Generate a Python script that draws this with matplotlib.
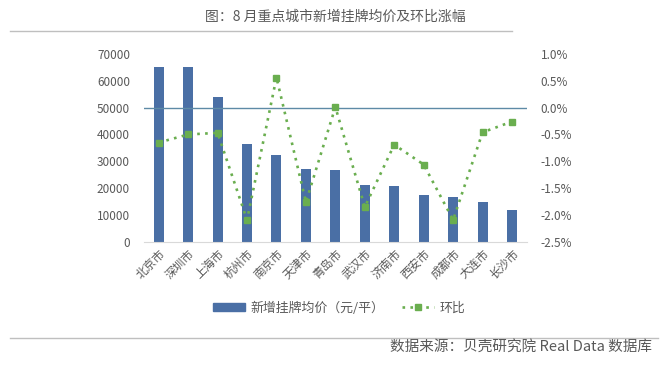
import matplotlib
matplotlib.use("Agg")
import matplotlib.pyplot as plt
from matplotlib.lines import Line2D
from matplotlib.patches import Patch
from matplotlib.ticker import FuncFormatter

plt.rcParams['font.family'] = ['Noto Sans CJK SC', 'DejaVu Sans']

cities = ["北京市", "深圳市", "上海市", "杭州市", "南京市", "天津市", "青岛市",
          "武汉市", "济南市", "西安市", "成都市", "大连市", "长沙市"]
prices = [65000, 65000, 54000, 36500, 32400, 27200, 26800,
          21200, 21000, 17500, 16750, 14900, 11900]
mom = [-0.65, -0.50, -0.47, -2.09, 0.56, -1.76, 0.01,
       -1.85, -0.69, -1.06, -2.09, -0.46, -0.26]

title = "图：8 月重点城市新增挂牌均价及环比涨幅"
source = "数据来源：贝壳研究院 Real Data 数据库"
bar_label = "新增挂牌均价（元/平）"
line_label = "环比"

bar_color = "#4A6FA5"
green = "#6AAE4F"
text_gray = "#595959"

fig = plt.figure(figsize=(6.71, 3.74), dpi=100)
ax = fig.add_axes([0.2146, 0.353, 0.5704, 0.503])
x = list(range(len(cities)))
ax.bar(x, prices, width=0.34, color=bar_color, zorder=2)
ax.set_xlim(-0.5, len(cities) - 0.5)
ax.set_ylim(0, 70000)
ax.set_yticks(range(0, 70001, 10000))
ax.set_xticks(x)
ax.set_xticklabels(cities, rotation=45, ha='right', rotation_mode='anchor',
                   fontsize=9, color=text_gray)
for s in ['top', 'right', 'left']:
    ax.spines[s].set_visible(False)
ax.spines['bottom'].set_color('#D9D9D9')
ax.tick_params(axis='both', length=0, labelsize=8.5, labelcolor=text_gray)
ax.tick_params(axis='x', pad=4)
ax.tick_params(axis='y', pad=10)

ax2 = ax.twinx()
ax2.set_ylim(-2.5, 1.0)
ax2.set_yticks([1.0, 0.5, 0.0, -0.5, -1.0, -1.5, -2.0, -2.5])
ax2.yaxis.set_major_formatter(FuncFormatter(lambda v, p: f"{v:.1f}%"))
ax2.axhline(0, color='#5E8AA6', lw=1.0, zorder=1)
ax2.plot(x, mom, color=green, ls=(0, (1, 2.0)), lw=1.9, marker='s',
         markersize=4.6, markerfacecolor=green, markeredgecolor=green, zorder=3)
for s in ['top', 'right', 'left', 'bottom']:
    ax2.spines[s].set_visible(False)
ax2.tick_params(axis='y', length=0, labelsize=8.5, labelcolor=text_gray, pad=10)

fig.text(0.5, 1 - 17 / 374, title, ha='center', va='center', fontsize=10, color=text_gray)
fig.add_artist(Line2D([0.015, 0.763], [1 - 31 / 374] * 2, color='#BFBFBF', lw=1))
fig.add_artist(Line2D([0.015, 0.981], [1 - 338 / 374] * 2, color='#BFBFBF', lw=1))
fig.text(0.972, 1 - 347 / 374, source, ha='right', va='center', fontsize=10.5, color=text_gray)

handles = [Patch(color=bar_color),
           Line2D([0], [0], color=green, ls=(0, (1, 2.0)), lw=1.9, marker='s',
                  markersize=4.6, markerfacecolor=green, markeredgecolor=green)]
fig.legend(handles, [bar_label, line_label], loc='center', ncol=2,
           bbox_to_anchor=(0.505, 1 - 308 / 374), frameon=False, fontsize=9.3,
           labelcolor=text_gray, handlelength=2.5, handleheight=0.5,
           columnspacing=1.4, handletextpad=0.4)

fig.savefig("out.png", dpi=100)
